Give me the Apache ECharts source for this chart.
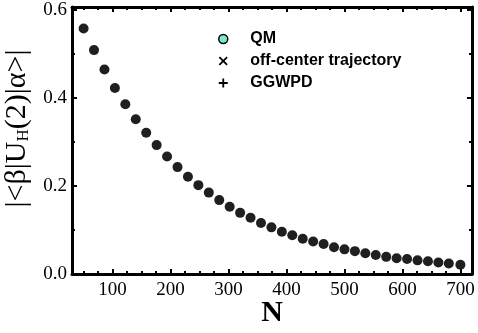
<!DOCTYPE html>
<html>
<head>
<meta charset="utf-8">
<style>
  html, body { margin: 0; padding: 0; background: #fff; }
  #chart { width: 478px; height: 333px; }
</style>
<script src="https://cdn.jsdelivr.net/npm/echarts@6/dist/echarts.min.js"></script>
</head>
<body>
<div id="chart"></div>
<script>
// N values (x)
const nValues = [50, 68, 86, 104, 122, 140, 158, 176, 194, 212, 230, 248, 266, 284, 302, 320, 338, 356, 374,
  392, 410, 428, 446, 464, 482, 500, 518, 536, 554, 572, 590, 608, 626, 644, 662, 680, 700]
// |<b|U_H(2)|a>| values
const qmValues = [0.558, 0.509, 0.465, 0.423, 0.386, 0.352, 0.321, 0.293, 0.267, 0.243, 0.221, 0.202, 0.185,
  0.168, 0.153, 0.139, 0.128, 0.116, 0.106, 0.096, 0.088, 0.080, 0.074, 0.068, 0.061, 0.056, 0.052, 0.047,
  0.043, 0.039, 0.036, 0.034, 0.031, 0.029, 0.026, 0.024, 0.021]
// the other two methods lie on top of QM in the picture
const offCenterValues = qmValues.slice()
const ggwpdValues = qmValues.slice()
const seriesNames = ['QM', 'off-center trajectory', 'GGWPD']

const serif = 'Liberation Serif'
const dotColor = '#202020'
const crossPath = 'path://M0,1.4 L1.4,0 L5,3.6 L8.6,0 L10,1.4 L6.4,5 L10,8.6 L8.6,10 L5,6.4 L1.4,10 L0,8.6 L3.6,5 Z'
const plusPath = 'path://M4,0 H6 V4 H10 V6 H6 V10 H4 V6 H0 V4 H4 Z'

const pairs = (ys) => nValues.map((n, i) => [n, ys[i]])

const chart = echarts.init(document.getElementById('chart'))

const frameAxis = {
  axisLine: { show: true, onZero: false, lineStyle: { color: '#000', width: 3 } },
  axisTick: { show: true, inside: true, length: 5, lineStyle: { color: '#000', width: 2 } },
  minorTick: { show: true, length: 3, lineStyle: { color: '#000', width: 2 } },
  splitLine: { show: false }
}

const option = {
  animation: false,
  grid: { left: 72, right: 6, top: 7, bottom: 59, containLabel: false, outerBoundsMode: 'none' },
  legend: {
    orient: 'vertical',
    left: 213,
    top: 26,
    itemWidth: 44,
    itemHeight: 9,
    itemGap: 6,
    data: [
      { name: 'QM', icon: 'circle', itemStyle: { color: '#7fe6d4', borderColor: '#000', borderWidth: 1.5 } },
      { name: 'off-center trajectory', icon: crossPath, itemStyle: { color: '#000' } },
      { name: 'GGWPD', icon: plusPath, itemStyle: { color: '#000' } }
    ],
    textStyle: { fontFamily: 'Liberation Sans', fontWeight: 'bold', fontSize: 16, color: '#000' }
  },
  xAxis: [
    {
      type: 'value', position: 'bottom', min: 30, max: 720, splitNumber: 7,
      ...frameAxis,
      minorTick: { ...frameAxis.minorTick, splitNumber: 4 },
      axisLabel: { show: true, margin: 7, fontFamily: serif, fontSize: 19, color: '#000', showMinLabel: false, showMaxLabel: false },
      name: 'N', nameLocation: 'middle', nameGap: 24, nameMoveOverlap: false,
      nameTextStyle: { fontFamily: serif, fontWeight: 'bold', fontSize: 30, color: '#000' }
    },
    {
      type: 'value', position: 'top', min: 30, max: 720, splitNumber: 7,
      ...frameAxis,
      minorTick: { ...frameAxis.minorTick, splitNumber: 4 },
      axisLabel: { show: false }
    }
  ],
  yAxis: [
    {
      type: 'value', position: 'left', min: 0, max: 0.607, interval: 0.2,
      ...frameAxis,
      minorTick: { ...frameAxis.minorTick, splitNumber: 2 },
      axisLabel: {
        show: true, margin: 5, fontFamily: serif, fontSize: 19, color: '#000', showMaxLabel: false,
        formatter: (v) => v.toFixed(1)
      },
      name: '|<β|U{s|H}(2)|α>|', nameLocation: 'middle', nameGap: 40, nameRotate: 90, nameMoveOverlap: false,
      nameTextStyle: {
        fontFamily: serif, fontSize: 30, color: '#000', padding: [0, 0, 0, 24],
        rich: { s: { fontFamily: serif, fontSize: 17, color: '#000', verticalAlign: 'bottom', lineHeight: 17, padding: [3, 0, 0, 0] } }
      }
    },
    {
      type: 'value', position: 'right', min: 0, max: 0.607, interval: 0.2,
      ...frameAxis,
      minorTick: { ...frameAxis.minorTick, splitNumber: 2 },
      axisLabel: { show: false }
    }
  ],
  series: [
    {
      name: seriesNames[0], type: 'scatter', symbol: 'circle', symbolSize: 10,
      itemStyle: { color: dotColor, opacity: 1 },
      data: pairs(qmValues)
    },
    {
      name: seriesNames[1], type: 'scatter', symbol: crossPath, symbolSize: 6,
      itemStyle: { color: dotColor, opacity: 1 },
      data: pairs(offCenterValues)
    },
    {
      name: seriesNames[2], type: 'scatter', symbol: plusPath, symbolSize: 7,
      itemStyle: { color: dotColor, opacity: 1 },
      data: pairs(ggwpdValues)
    }
  ]
}

chart.setOption(option)
</script>
</body>
</html>
